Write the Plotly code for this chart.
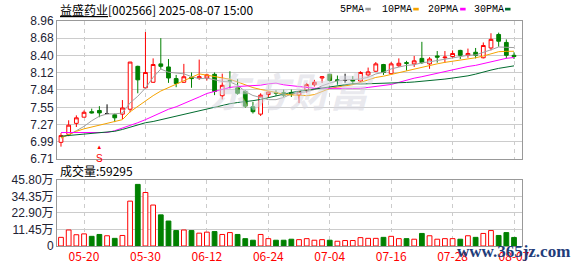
import plotly.graph_objects as go

# ---------------- data ----------------
dates = ["05-15", "05-16", "05-19", "05-20", "05-21", "05-22", "05-23", "05-26", "05-27", "05-28",
         "05-29", "05-30", "06-03", "06-04", "06-05", "06-06", "06-09", "06-10", "06-11", "06-12",
         "06-13", "06-16", "06-17", "06-18", "06-19", "06-20", "06-23", "06-24", "06-25", "06-26",
         "06-27", "06-30", "07-01", "07-02", "07-03", "07-04", "07-07", "07-08", "07-09", "07-10",
         "07-11", "07-14", "07-15", "07-16", "07-17", "07-18", "07-21", "07-22", "07-23", "07-24",
         "07-25", "07-28", "07-29", "07-30", "07-31", "08-01", "08-04", "08-05", "08-06", "08-07"]

opens = [6.98, 7.11, 7.29, 7.39, 7.48, 7.50, 7.45, 7.43, 7.44, 7.52,
         8.22, 7.87, 7.96, 8.26, 8.21, 8.02, 7.96, 8.04, 8.03, 8.03,
         8.09, 7.74, 7.99, 7.87, 7.81, 7.56, 7.44, 7.76, 7.79, 7.79,
         7.79, 7.75, 7.83, 7.92, 8.03, 8.09, 8.00, 7.99, 8.00, 7.98,
         8.08, 8.14, 8.25, 8.10, 8.23, 8.28, 8.26, 8.35, 8.26, 8.39,
         8.36, 8.38, 8.48, 8.40, 8.45, 8.36, 8.52, 8.74, 8.61, 8.40]
highs = [7.13, 7.34, 7.42, 7.50, 7.53, 7.57, 7.60, 7.45, 7.67, 8.29,
         8.23, 8.78, 8.35, 8.68, 8.34, 8.08, 8.26, 8.12, 8.33, 8.10,
         8.12, 8.10, 8.14, 8.01, 7.83, 7.64, 7.78, 7.81, 7.83, 7.84,
         7.84, 7.82, 7.95, 8.00, 8.06, 8.10, 8.07, 8.10, 8.06, 8.14,
         8.20, 8.29, 8.26, 8.29, 8.35, 8.31, 8.39, 8.62, 8.37, 8.47,
         8.47, 8.48, 8.49, 8.51, 8.52, 8.61, 8.76, 8.77, 8.66, 8.45]
lows = [6.91, 7.08, 7.23, 7.39, 7.45, 7.39, 7.44, 7.31, 7.36, 7.47,
        7.78, 7.86, 7.95, 8.18, 7.95, 7.88, 7.95, 7.87, 8.00, 7.99,
        7.75, 7.68, 7.86, 7.76, 7.54, 7.45, 7.41, 7.71, 7.74, 7.72,
        7.72, 7.62, 7.79, 7.89, 7.95, 7.97, 7.92, 7.95, 7.92, 7.96,
        8.05, 8.13, 8.08, 8.09, 8.21, 8.15, 8.21, 8.26, 8.18, 8.28,
        8.28, 8.35, 8.34, 8.36, 8.35, 8.35, 8.48, 8.54, 8.35, 8.34]
closes = [7.09, 7.26, 7.38, 7.47, 7.46, 7.46, 7.45, 7.38, 7.54, 8.29,
          8.00, 8.12, 8.25, 8.22, 8.03, 7.94, 8.05, 8.02, 8.05, 8.08,
          7.81, 7.91, 7.98, 7.78, 7.57, 7.48, 7.75, 7.80, 7.78, 7.75,
          7.77, 7.81, 7.92, 7.96, 8.05, 7.99, 7.99, 7.99, 7.98, 8.12,
          8.13, 8.26, 8.12, 8.26, 8.27, 8.27, 8.31, 8.28, 8.34, 8.37,
          8.37, 8.43, 8.40, 8.43, 8.40, 8.56, 8.66, 8.63, 8.40, 8.38]

ma5 = [7.06, 7.10, 7.17, 7.24, 7.332, 7.406, 7.444, 7.444, 7.458, 7.624,
       7.732, 7.866, 8.040, 8.176, 8.124, 8.112, 8.098, 8.052, 8.018, 8.028,
       8.002, 7.974, 7.966, 7.912, 7.810, 7.744, 7.712, 7.676, 7.676, 7.712,
       7.770, 7.782, 7.806, 7.842, 7.902, 7.946, 7.982, 7.996, 8.000, 8.014,
       8.042, 8.096, 8.122, 8.178, 8.208, 8.236, 8.246, 8.278, 8.294, 8.314,
       8.334, 8.358, 8.382, 8.400, 8.406, 8.444, 8.490, 8.536, 8.530, 8.526]
ma10 = [7.05, 7.11, 7.16, 7.20, 7.23, 7.26, 7.28, 7.31, 7.35, 7.478,
        7.569, 7.655, 7.742, 7.817, 7.874, 7.922, 7.982, 8.046, 8.097, 8.076,
        8.057, 8.036, 8.009, 7.965, 7.919, 7.873, 7.843, 7.821, 7.794, 7.761,
        7.757, 7.747, 7.741, 7.759, 7.807, 7.858, 7.882, 7.901, 7.921, 7.958,
        7.994, 8.039, 8.059, 8.089, 8.111, 8.139, 8.171, 8.200, 8.236, 8.261,
        8.285, 8.302, 8.330, 8.347, 8.360, 8.389, 8.424, 8.459, 8.465, 8.466]
ma20 = [7.14, 7.14, 7.14, 7.14, 7.13, 7.13, 7.14, 7.17, 7.21, 7.26,
        7.30, 7.35, 7.41, 7.47, 7.52, 7.56, 7.61, 7.66, 7.72, 7.777,
        7.813, 7.846, 7.876, 7.891, 7.897, 7.898, 7.913, 7.934, 7.946, 7.919,
        7.907, 7.892, 7.875, 7.862, 7.863, 7.866, 7.863, 7.861, 7.858, 7.860,
        7.876, 7.893, 7.900, 7.924, 7.959, 7.999, 8.027, 8.051, 8.079, 8.110,
        8.140, 8.171, 8.195, 8.218, 8.236, 8.264, 8.298, 8.330, 8.351, 8.364]
ma30 = [7.08, 7.09, 7.10, 7.11, 7.12, 7.13, 7.14, 7.16, 7.19, 7.23,
        7.27, 7.30, 7.32, 7.35, 7.37, 7.40, 7.43, 7.46, 7.49, 7.52,
        7.55, 7.58, 7.61, 7.63, 7.64, 7.66, 7.68, 7.71, 7.74, 7.772,
        7.794, 7.813, 7.831, 7.847, 7.867, 7.884, 7.902, 7.923, 7.937, 7.932,
        7.936, 7.941, 7.936, 7.938, 7.946, 7.957, 7.965, 7.974, 7.984, 7.993,
        8.012, 8.029, 8.043, 8.065, 8.093, 8.129, 8.159, 8.187, 8.207, 8.228]

volumes = [60000, 111000, 78000, 84000, 67000, 80000, 71000, 53000, 73000, 311000,
           427000, 371000, 284000, 216000, 173000, 107000, 111000, 107000, 89000, 96000,
           100000, 80000, 93000, 80000, 51000, 40000, 80000, 51000, 40000, 40000,
           47000, 44000, 51000, 40000, 44000, 40000, 33000, 38000, 38000, 58000,
           53000, 53000, 60000, 67000, 51000, 51000, 47000, 87000, 71000, 47000,
           51000, 51000, 47000, 71000, 60000, 87000, 107000, 73000, 93000, 59295]
vol_up = [1, 1, 1, 1, 0, 0, 1, 0, 1, 1,
          0, 1, 1, 0, 0, 0, 1, 0, 1, 1,
          0, 1, 1, 0, 0, 0, 1, 1, 0, 0,
          0, 1, 1, 1, 1, 0, 1, 1, 1, 1,
          1, 1, 0, 1, 1, 0, 1, 0, 1, 1,
          1, 1, 0, 1, 0, 1, 1, 0, 0, 0]

price_tick_labels = ["6.71", "6.99", "7.27", "7.55", "7.84", "8.12", "8.40", "8.68", "8.96"]
vol_tick_values = [0, 114500, 229000, 343500, 458000]
vol_tick_labels = ["0", "11.45万", "22.90万", "34.35万", "45.80万"]
x_tick_dates = ["05-20", "05-30", "06-12", "06-24", "07-04", "07-16", "07-28", "08-07"]

title_name = "益盛药业"
title_rest = "[002566] 2025-08-07 15:00"
ma_names = ["5PMA", "10PMA", "20PMA", "30PMA"]
last_volume_text = "成交量:59295"
signal_date = "05-22"

# ---------------- styles ----------------
RED = "#ff0000"
GREEN = "#008000"
MA_COLORS = ["#a0a0a0", "#f5a300", "#ff00ff", "#006b2e"]
GRID = "#cccccc"
BORDER = "#999999"
LABEL = "#222233"

W, H = 578, 276
L, R, T, B = 56, 522, 21, 256
PRICE_BOTTOM = 165
VOL_TOP = 187


def pxx(x):
    return (x - L) / (R - L)


def pxy(y):
    return (B - y) / (B - T)


n = len(dates)
fig = go.Figure()

# candles: up (hollow red), down (green), flat (black)
groups = [
    ([i for i in range(n) if closes[i] > opens[i]], RED, "white"),
    ([i for i in range(n) if closes[i] < opens[i]], GREEN, GREEN),
    ([i for i in range(n) if closes[i] == opens[i]], "#000000", "#000000"),
]
for idx, lc, fc in groups:
    fig.add_trace(go.Candlestick(
        x=[dates[i] for i in idx],
        open=[opens[i] for i in idx],
        high=[highs[i] for i in idx],
        low=[lows[i] for i in idx],
        close=[closes[i] for i in idx],
        increasing=dict(line=dict(color=lc, width=1), fillcolor=fc),
        decreasing=dict(line=dict(color=lc, width=1), fillcolor=fc),
        whiskerwidth=0,
        showlegend=False, hoverinfo="skip",
        xaxis="x", yaxis="y",
    ))

for ma, col in zip([ma5, ma10, ma20, ma30], MA_COLORS):
    fig.add_trace(go.Scatter(x=dates, y=ma, mode="lines",
                             line=dict(color=col, width=1),
                             showlegend=False, hoverinfo="skip",
                             xaxis="x", yaxis="y"))

fig.add_trace(go.Bar(
    x=dates, y=volumes, width=0.62,
    marker=dict(color=["white" if u else GREEN for u in vol_up],
                line=dict(color=[RED if u else GREEN for u in vol_up], width=1)),
    showlegend=False, hoverinfo="skip",
    xaxis="x2", yaxis="y2",
))

xcommon = dict(
    type="category", categoryorder="array", categoryarray=dates,
    range=[-0.52, n - 1 + 1.04],
    tickmode="array", tickvals=x_tick_dates, ticktext=x_tick_dates,
    showgrid=True, gridcolor=GRID, gridwidth=1, griddash="4px,4px",
    showline=True, linecolor=BORDER, linewidth=1, mirror=True,
    ticks="", fixedrange=True, zeroline=False,
)

fig.update_layout(
    width=W, height=H,
    margin=dict(l=L, r=W - R, t=T, b=H - B, pad=0),
    paper_bgcolor="white", plot_bgcolor="white",
    showlegend=False,
    xaxis=dict(xcommon, domain=[0, 1], anchor="y", showticklabels=False,
               rangeslider=dict(visible=False)),
    xaxis2=dict(xcommon, domain=[0, 1], anchor="y2", showticklabels=True,
                tickfont=dict(family="Noto Sans CJK SC", size=12, color=RED)),
    yaxis=dict(domain=[pxy(PRICE_BOTTOM), 1], anchor="x",
               range=[6.71, 8.96], tickmode="array",
               tickvals=[float(t) for t in price_tick_labels], ticktext=price_tick_labels,
               showgrid=True, gridcolor=GRID, gridwidth=1,
               showline=True, linecolor=BORDER, mirror=True, ticks="",
               zeroline=False,
               tickfont=dict(family="Liberation Sans, Arial", size=12, color=LABEL)),
    yaxis2=dict(domain=[0, pxy(VOL_TOP)], anchor="x2",
                range=[0, vol_tick_values[-1]], tickmode="array",
                tickvals=vol_tick_values, ticktext=vol_tick_labels,
                showgrid=True, gridcolor=GRID, gridwidth=1,
                showline=True, linecolor=BORDER, mirror=True, ticks="",
                zeroline=False,
                tickfont=dict(family="Liberation Sans, Noto Sans CJK SC", size=12, color=LABEL)),
)

annotations = []
# watermark
annotations.append(dict(xref="paper", yref="paper", x=pxx(292), y=pxy(93),
                        text="<b><i>东方财富</i></b>", showarrow=False,
                        font=dict(family="Noto Sans CJK SC", size=40, color="rgba(214,214,224,0.55)"),
                        xanchor="center", yanchor="middle"))
# title
annotations.append(dict(xref="paper", yref="paper", x=pxx(57), y=pxy(9),
                        text="<u>" + title_name + "</u>" + title_rest, showarrow=False,
                        font=dict(family="Noto Sans CJK SC", size=12, color="#000000"),
                        xanchor="left", yanchor="middle"))
# legend
legend_text_x = [338, 380, 426, 472]
legend_sq_x = [365, 413, 460, 505]
for name, col, tx, sx in zip(ma_names, MA_COLORS, legend_text_x, legend_sq_x):
    annotations.append(dict(xref="paper", yref="paper", x=pxx(tx), y=pxy(8.5),
                            text=name, showarrow=False,
                            font=dict(family="Liberation Mono", size=10, color="#000000"),
                            xanchor="left", yanchor="middle"))
    fig.add_shape(type="rect", xref="paper", yref="paper",
                  x0=pxx(sx), x1=pxx(sx + 5.5), y0=pxy(10), y1=pxy(7.2),
                  line=dict(width=0), fillcolor=col)
# volume caption
annotations.append(dict(xref="paper", yref="paper", x=pxx(57), y=pxy(177),
                        text=last_volume_text, showarrow=False,
                        font=dict(family="Noto Sans CJK SC", size=12, color="#000000"),
                        xanchor="left", yanchor="middle"))
# S signal (arrow + letter in one text)
annotations.append(dict(xref="x", yref="y", x=signal_date, y=6.79,
                        text="<span style='font-size:6px'>▲</span><br>S", showarrow=False,
                        font=dict(family="Liberation Sans", size=10, color=RED),
                        xanchor="center", yanchor="middle"))
# site watermark
annotations.append(dict(xref="paper", yref="paper", x=pxx(513), y=pxy(262),
                        text="<b>www.365jz.com</b>", showarrow=False,
                        font=dict(family="Liberation Serif", size=17, color="#1f3d7a"),
                        xanchor="center", yanchor="middle"))
fig.update_layout(annotations=annotations)

fig.write_html("out.html")
